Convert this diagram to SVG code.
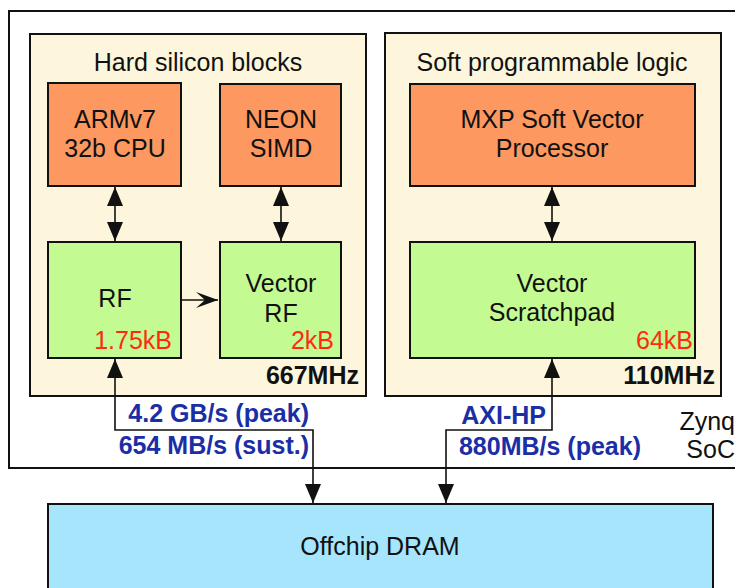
<svg xmlns="http://www.w3.org/2000/svg" width="735" height="588" viewBox="0 0 735 588">
<style>
text{font-family:"Liberation Sans",Arial,Helvetica,sans-serif;font-size:25px;fill:#111}
.c{text-anchor:middle}
.r{text-anchor:end}
.red{fill:#ff2a10}
.b{font-weight:bold}
.blue{fill:#1a2ea6;font-weight:bold}
.panel{fill:#fef6dc;stroke:#111;stroke-width:2}
.orange{fill:#fd9860;stroke:#111;stroke-width:2}
.green{fill:#c4fa92;stroke:#111;stroke-width:2}
.dram{fill:#a6e5fc;stroke:#111;stroke-width:2}
.soc{fill:#fff;stroke:#111;stroke-width:2}
.conn{fill:none;stroke:#111;stroke-width:1.6}
</style>
<defs>
<marker id="tri" viewBox="0 0 19 16" refX="19" refY="8" markerWidth="19" markerHeight="16" markerUnits="userSpaceOnUse" orient="auto-start-reverse">
<path d="M0,0 L19,8 L0,16 z" fill="#111"/>
</marker>
<marker id="stealth" viewBox="0 0 22 16" refX="22" refY="8" markerWidth="22" markerHeight="16" markerUnits="userSpaceOnUse" orient="auto">
<path d="M0,0 L22,8 L0,16 L9,8 z" fill="#111"/>
</marker>
</defs>
<rect width="735" height="588" fill="#fff"/>
<g id="soc">
<rect class="soc" x="9" y="11" width="740" height="457"/>
<text x="735" y="430" class="r">Zynq</text>
<text x="735" y="458" class="r">SoC</text>
</g>
<g id="hard">
<rect class="panel" x="30" y="34" width="336" height="362"/>
<text x="198" y="71" class="c">Hard silicon blocks</text>
<text x="359" y="384" class="r b">667MHz</text>
</g>
<g id="soft">
<rect class="panel" x="385" y="33" width="336" height="363"/>
<text x="552" y="71" class="c">Soft programmable logic</text>
<text x="715" y="384" class="r b">110MHz</text>
</g>
<g id="arm">
<rect class="orange" x="48" y="83" width="133" height="103"/>
<text x="115" y="128" class="c">ARMv7</text>
<text x="115" y="157" class="c">32b CPU</text>
</g>
<g id="neon">
<rect class="orange" x="220" y="84" width="121" height="102"/>
<text x="281" y="128" class="c">NEON</text>
<text x="281" y="157" class="c">SIMD</text>
</g>
<g id="mxp">
<rect class="orange" x="410" y="84" width="285" height="102"/>
<text x="552" y="128" class="c">MXP Soft Vector</text>
<text x="552" y="157" class="c">Processor</text>
</g>
<g id="rf">
<rect class="green" x="48" y="242" width="133" height="116"/>
<text x="115" y="307" class="c">RF</text>
<text x="172" y="349" class="r red">1.75kB</text>
</g>
<g id="vrf">
<rect class="green" x="220" y="242" width="121" height="116"/>
<text x="281" y="292" class="c">Vector</text>
<text x="281" y="322" class="c">RF</text>
<text x="334" y="349" class="r red">2kB</text>
</g>
<g id="scratch">
<rect class="green" x="410" y="242" width="285" height="116"/>
<text x="552" y="292" class="c">Vector</text>
<text x="552" y="321" class="c">Scratchpad</text>
<text x="693" y="349" class="r red">64kB</text>
</g>
<g id="dram">
<rect class="dram" x="48" y="504" width="665" height="100"/>
<text x="380" y="555" class="c">Offchip DRAM</text>
</g>
<g id="connectors">
<line class="conn" x1="115" y1="187" x2="115" y2="241" marker-start="url(#tri)" marker-end="url(#tri)"/>
<line class="conn" x1="281" y1="187" x2="281" y2="241" marker-start="url(#tri)" marker-end="url(#tri)"/>
<line class="conn" x1="552" y1="187" x2="552" y2="241" marker-start="url(#tri)" marker-end="url(#tri)"/>
<line class="conn" x1="182" y1="300" x2="218" y2="300" marker-end="url(#stealth)"/>
<path class="conn" d="M115,359 L115,430 L313,430 L313,503" marker-start="url(#tri)" marker-end="url(#tri)"/>
<path class="conn" d="M552,359 L552,430 L446,430 L446,503" marker-start="url(#tri)" marker-end="url(#tri)"/>
<text x="309" y="422" class="r blue">4.2 GB/s (peak)</text>
<text x="309" y="454" class="r blue">654 MB/s (sust.)</text>
<text x="546" y="424" class="r blue">AXI-HP</text>
<text x="641" y="455" class="r blue">880MB/s (peak)</text>
</g>
</svg>
